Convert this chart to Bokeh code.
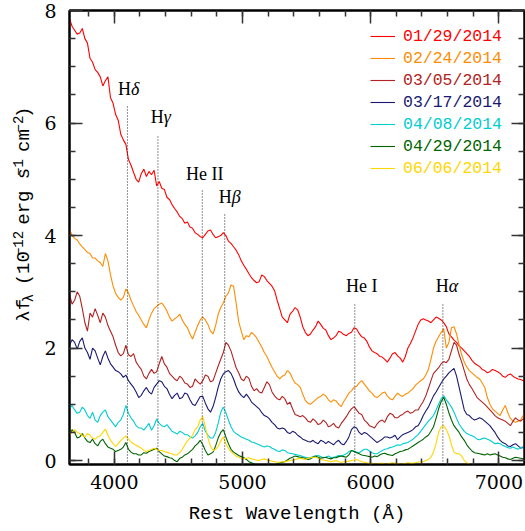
import math
from bokeh.plotting import figure
from bokeh.layouts import row
from bokeh.models import (Range1d, LinearAxis, SingleIntervalTicker, Legend,
                          LegendItem)
from bokeh.core.properties import value
from bokeh.embed import file_html
from bokeh.resources import INLINE

# ---------------- data ----------------
wave = list(range(3650, 7211, 20))  # rest wavelength grid (Angstrom)

dates = ["01/29/2014", "02/24/2014", "03/05/2014", "03/17/2014",
         "04/08/2014", "04/29/2014", "06/06/2014"]
colors = ["#ff0000", "#ff8c00", "#b22222", "#191970",
          "#00cdd0", "#006400", "#ffd700"]

red = [7.85, 7.72, 7.65, 7.58, 7.60, 7.68, 7.50, 7.42, 7.15, 7.08,
       6.95, 6.90, 6.82, 6.66, 6.75, 6.82, 6.45, 6.35, 6.15, 6.05,
       5.80, 5.70, 5.62, 5.35, 5.25, 5.12, 5.00, 4.95, 5.10, 5.18,
       5.05, 5.14, 5.08, 5.16, 4.88, 4.96, 4.84, 4.82, 4.68, 4.64,
       4.55, 4.48, 4.42, 4.34, 4.30, 4.22, 4.24, 4.15, 4.13, 4.05,
       4.02, 3.98, 3.96, 4.02, 4.08, 4.10, 4.02, 3.96, 3.98, 4.00,
       4.05, 4.00, 3.90, 3.86, 3.80, 3.74, 3.66, 3.55, 3.47, 3.40,
       3.32, 3.25, 3.20, 3.16, 3.18, 3.30, 3.27, 3.20, 3.15, 3.10,
       3.02, 2.85, 2.70, 2.55, 2.50, 2.45, 2.60, 2.65, 2.72, 2.68,
       2.55, 2.38, 2.28, 2.22, 2.25, 2.32, 2.38, 2.48, 2.42, 2.35,
       2.32, 2.22, 2.15, 2.18, 2.22, 2.30, 2.28, 2.24, 2.22, 2.26,
       2.28, 2.36, 2.34, 2.26, 2.20, 2.18, 2.12, 2.02, 1.95, 1.92,
       1.90, 1.85, 1.84, 1.80, 1.75, 1.82, 1.90, 1.92, 1.86, 1.82,
       1.75, 1.85, 2.00, 2.08, 2.18, 2.30, 2.42, 2.50, 2.52, 2.50,
       2.48, 2.45, 2.50, 2.55, 2.53, 2.50, 2.45, 2.38, 2.25, 2.20,
       2.14, 2.10, 2.04, 2.00, 1.95, 1.90, 1.85, 1.78, 1.73, 1.70,
       1.67, 1.62, 1.60, 1.56, 1.58, 1.62, 1.60, 1.58, 1.55, 1.50,
       1.48, 1.52, 1.54, 1.50, 1.47, 1.45, 1.44, 1.42, 1.40]

orange = [4.12, 4.00, 3.95, 3.92, 3.85, 3.80, 3.75, 3.70, 3.68, 3.60,
          3.60, 3.55, 3.52, 3.45, 3.68, 3.55, 3.30, 3.10, 2.97, 2.90,
          2.85, 2.90, 3.05, 2.98, 2.85, 2.75, 2.65, 2.58, 2.50, 2.42,
          2.36, 2.50, 2.62, 2.70, 2.74, 2.78, 2.80, 2.74, 2.66, 2.55,
          2.48, 2.52, 2.55, 2.60, 2.50, 2.42, 2.36, 2.25, 2.16, 2.28,
          2.40, 2.50, 2.55, 2.50, 2.42, 2.30, 2.25, 2.40, 2.60, 2.72,
          2.80, 2.92, 2.98, 3.12, 3.10, 2.80, 2.47, 2.30, 2.15, 2.22,
          2.20, 2.28, 2.24, 2.18, 2.10, 2.02, 1.92, 1.85, 1.75, 1.66,
          1.58, 1.50, 1.45, 1.50, 1.52, 1.60, 1.56, 1.46, 1.38, 1.35,
          1.30, 1.18, 1.07, 1.02, 1.00, 1.04, 1.08, 1.12, 1.14, 1.18,
          1.15, 1.08, 1.04, 1.08, 1.06, 1.00, 0.96, 1.05, 1.12, 1.20,
          1.24, 1.30, 1.32, 1.38, 1.42, 1.36, 1.30, 1.24, 1.20, 1.14,
          1.12, 1.16, 1.20, 1.22, 1.15, 1.10, 1.08, 1.14, 1.20, 1.16,
          1.14, 1.18, 1.20, 1.24, 1.28, 1.34, 1.38, 1.42, 1.45, 1.52,
          1.62, 1.80, 2.00, 2.12, 2.20, 2.28, 2.34, 2.00, 2.10, 2.36,
          2.38, 2.25, 2.05, 1.88, 1.75, 1.66, 1.60, 1.56, 1.52, 1.48,
          1.45, 1.38, 1.30, 1.12, 1.00, 0.92, 0.88, 0.84, 0.80, 0.90,
          0.98, 0.85, 0.75, 0.70, 0.68, 0.70, 0.72, 0.80, 0.84]

firebrick = [2.95, 2.78, 2.85, 3.00, 2.92, 2.70, 2.45, 2.30, 2.62, 2.55,
             2.70, 2.58, 2.45, 2.62, 2.55, 2.40, 2.30, 2.20, 2.05, 1.92,
             1.86, 1.90, 2.05, 1.88, 1.85, 1.90, 1.75, 1.68, 1.62, 1.50,
             1.45, 1.55, 1.62, 1.55, 1.58, 1.72, 1.85, 1.72, 1.66, 1.55,
             1.50, 1.45, 1.42, 1.50, 1.46, 1.38, 1.36, 1.30, 1.32, 1.45,
             1.40, 1.36, 1.42, 1.52, 1.50, 1.40, 1.42, 1.55, 1.68, 1.80,
             1.92, 2.10, 2.05, 1.95, 1.80, 1.65, 1.56, 1.45, 1.42, 1.50,
             1.46, 1.32, 1.24, 1.28, 1.22, 1.20, 1.30, 1.40, 1.35, 1.22,
             1.15, 1.10, 1.08, 1.14, 1.10, 1.00, 1.04, 0.92, 0.82, 0.80,
             0.78, 0.80, 0.76, 0.70, 0.68, 0.74, 0.70, 0.64, 0.66, 0.72,
             0.68, 0.60, 0.62, 0.66, 0.60, 0.58, 0.66, 0.72, 0.78, 0.86,
             0.92, 0.96, 0.90, 0.84, 0.82, 0.72, 0.68, 0.62, 0.60, 0.58,
             0.65, 0.70, 0.72, 0.68, 0.78, 0.84, 0.82, 0.76, 0.76, 0.80,
             0.82, 0.86, 0.88, 0.84, 0.86, 0.90, 0.90, 0.98, 1.05, 1.15,
             1.28, 1.42, 1.55, 1.60, 1.65, 1.72, 1.76, 1.74, 1.80, 1.95,
             2.10, 2.05, 1.88, 1.75, 1.60, 1.45, 1.35, 1.28, 1.20, 1.12,
             1.08, 1.04, 1.00, 0.95, 0.90, 0.85, 0.80, 0.76, 0.74, 0.72,
             0.70, 0.66, 0.62, 0.70, 0.76, 0.72, 0.70, 0.74, 0.72]

navy = [2.05, 2.15, 2.10, 1.98, 2.12, 2.18, 2.00, 1.92, 1.80, 2.00,
        1.95, 1.82, 1.70, 1.85, 1.95, 1.82, 1.72, 1.66, 1.60, 1.58,
        1.54, 1.48, 1.52, 1.42, 1.36, 1.30, 1.22, 1.12, 1.16, 1.24,
        1.30, 1.22, 1.18, 1.30, 1.36, 1.42, 1.40, 1.32, 1.28, 1.18,
        1.10, 1.16, 1.20, 1.10, 1.12, 1.20, 1.18, 1.08, 1.00, 0.98,
        1.06, 1.14, 1.14, 1.02, 0.92, 0.86, 0.96, 1.12, 1.30, 1.45,
        1.54, 1.58, 1.60, 1.55, 1.45, 1.32, 1.22, 1.16, 1.12, 1.18,
        1.12, 1.04, 1.00, 0.96, 0.92, 0.85, 0.80, 0.78, 0.74, 0.68,
        0.64, 0.58, 0.56, 0.58, 0.56, 0.50, 0.48, 0.52, 0.50, 0.45,
        0.42, 0.38, 0.36, 0.34, 0.33, 0.36, 0.32, 0.30, 0.36, 0.34,
        0.30, 0.34, 0.31, 0.28, 0.33, 0.36, 0.30, 0.28, 0.34, 0.42,
        0.55, 0.60, 0.58, 0.50, 0.46, 0.50, 0.48, 0.44, 0.40, 0.36,
        0.32, 0.35, 0.38, 0.42, 0.42, 0.40, 0.42, 0.45, 0.37, 0.42,
        0.46, 0.48, 0.50, 0.52, 0.55, 0.60, 0.62, 0.70, 0.80, 0.88,
        0.95, 1.05, 1.15, 1.22, 1.30, 1.38, 1.45, 1.50, 1.56, 1.60,
        1.64, 1.50, 1.30, 1.10, 0.90, 0.82, 0.80, 0.75, 0.72, 0.74,
        0.76, 0.74, 0.70, 0.66, 0.62, 0.56, 0.50, 0.42, 0.36, 0.32,
        0.30, 0.26, 0.25, 0.28, 0.30, 0.26, 0.22, 0.24, 0.24]

cyan = [0.93, 0.98, 0.90, 0.84, 0.86, 0.95, 0.90, 0.80, 0.75, 0.86,
        0.72, 0.68, 0.80, 0.86, 0.90, 0.78, 0.72, 0.66, 0.60, 0.68,
        0.72, 0.82, 0.98, 0.84, 0.76, 0.70, 0.62, 0.58, 0.58, 0.54,
        0.60, 0.66, 0.54, 0.62, 0.74, 0.66, 0.62, 0.60, 0.64, 0.58,
        0.52, 0.50, 0.47, 0.52, 0.50, 0.46, 0.46, 0.42, 0.40, 0.44,
        0.50, 0.60, 0.66, 0.52, 0.45, 0.40, 0.40, 0.50, 0.66, 0.86,
        0.95, 0.85, 0.72, 0.60, 0.52, 0.48, 0.45, 0.42, 0.40, 0.38,
        0.36, 0.33, 0.32, 0.30, 0.28, 0.26, 0.24, 0.26, 0.25, 0.22,
        0.20, 0.17, 0.16, 0.19, 0.18, 0.14, 0.13, 0.12, 0.11, 0.10,
        0.09, 0.07, 0.06, 0.05, 0.05, 0.07, 0.08, 0.09, 0.07, 0.05,
        0.06, 0.08, 0.05, 0.06, 0.07, 0.09, 0.08, 0.10, 0.12, 0.16,
        0.18, 0.17, 0.15, 0.14, 0.17, 0.20, 0.20, 0.17, 0.14, 0.12,
        0.12, 0.15, 0.18, 0.20, 0.21, 0.23, 0.24, 0.26, 0.28, 0.27,
        0.30, 0.31, 0.32, 0.35, 0.38, 0.42, 0.46, 0.52, 0.58, 0.64,
        0.70, 0.75, 0.80, 0.90, 1.00, 1.10, 1.15, 1.08, 1.02, 0.95,
        0.86, 0.75, 0.65, 0.58, 0.52, 0.48, 0.46, 0.44, 0.42, 0.38,
        0.37, 0.39, 0.40, 0.38, 0.36, 0.33, 0.30, 0.31, 0.30, 0.27,
        0.25, 0.23, 0.22, 0.24, 0.22, 0.20, 0.24, 0.22, 0.21]

green = [0.45, 0.55, 0.50, 0.40, 0.42, 0.48, 0.40, 0.34, 0.32, 0.38,
         0.30, 0.26, 0.34, 0.38, 0.30, 0.24, 0.22, 0.20, 0.16, 0.18,
         0.20, 0.24, 0.32, 0.20, 0.15, 0.12, 0.12, 0.10, 0.10, 0.14,
         0.13, 0.16, 0.18, 0.20, 0.22, 0.16, 0.12, 0.08, 0.07, 0.05,
         0.04, 0.00, -0.02, 0.04, 0.06, 0.10, 0.12, 0.16, 0.20, 0.26,
         0.30, 0.36, 0.28, 0.18, 0.10, 0.12, 0.15, 0.26, 0.40, 0.50,
         0.55, 0.42, 0.30, 0.20, 0.15, 0.12, 0.09, 0.07, 0.05, 0.02,
         -0.02, -0.04, -0.06, -0.07, -0.08, -0.09, -0.10, -0.08, -0.06, -0.07,
         -0.08, -0.06, -0.04, -0.03, -0.02, 0.01, 0.04, 0.06, 0.08, 0.07,
         0.06, 0.05, 0.04, 0.02, 0.03, 0.06, 0.08, 0.06, 0.04, 0.05,
         0.06, 0.04, 0.03, 0.05, 0.05, 0.07, 0.08, 0.07, 0.06, 0.10,
         0.18, 0.16, 0.14, 0.12, 0.10, 0.09, 0.08, 0.07, 0.06, 0.08,
         0.07, 0.10, 0.12, 0.13, 0.11, 0.10, 0.09, 0.12, 0.14, 0.16,
         0.17, 0.19, 0.20, 0.23, 0.26, 0.29, 0.32, 0.35, 0.38, 0.42,
         0.45, 0.52, 0.60, 0.75, 0.92, 1.05, 1.12, 1.00, 0.85, 0.72,
         0.62, 0.56, 0.50, 0.42, 0.36, 0.28, 0.22, 0.17, 0.14, 0.13,
         0.12, 0.11, 0.10, 0.12, 0.10, 0.11, 0.12, 0.10, 0.08, 0.06,
         0.05, 0.03, 0.02, 0.04, 0.06, 0.05, 0.04, 0.03, 0.03]

yellow = [0.45, 0.50, 0.55, 0.50, 0.48, 0.45, 0.42, 0.48, 0.45, 0.40,
          0.38, 0.42, 0.44, 0.50, 0.56, 0.45, 0.36, 0.30, 0.25, 0.30,
          0.36, 0.40, 0.44, 0.38, 0.33, 0.30, 0.27, 0.25, 0.22, 0.18,
          0.16, 0.18, 0.20, 0.22, 0.20, 0.18, 0.18, 0.16, 0.15, 0.13,
          0.12, 0.10, 0.10, 0.14, 0.20, 0.28, 0.35, 0.40, 0.45, 0.55,
          0.60, 0.72, 0.78, 0.60, 0.40, 0.26, 0.18, 0.20, 0.25, 0.35,
          0.42, 0.30, 0.22, 0.16, 0.12, 0.08, 0.06, 0.04, 0.03, 0.04,
          0.05, 0.03, 0.02, 0.01, 0.00, 0.02, 0.03, 0.01, 0.00, -0.01,
          -0.02, -0.03, -0.03, -0.02, -0.02, -0.01, 0.00, 0.01, 0.02, 0.03,
          0.04, 0.03, 0.02, 0.04, 0.05, 0.06, 0.06, 0.04, 0.02, 0.01,
          0.00, -0.01, -0.02, -0.01, 0.00, -0.02, -0.03, -0.02, -0.02, -0.01,
          0.00, 0.01, 0.02, 0.00, -0.02, -0.03, -0.04, -0.05, -0.05, -0.06,
          -0.06, -0.05, -0.05, -0.06, -0.06, -0.05, -0.04, -0.05, -0.05, -0.06,
          -0.06, -0.05, -0.04, -0.05, -0.05, -0.04, -0.03, -0.02, -0.02, 0.00,
          0.02, 0.06, 0.15, 0.30, 0.50, 0.60, 0.62, 0.55, 0.45, 0.28,
          0.15, 0.12, 0.12, 0.08, 0.00, -0.04, -0.06]

series = [red, orange, firebrick, navy, cyan, green, yellow]

# emission-line markers
line_names = ["H", "H", "He II", "H", "He I", "H"]
line_greek = ["δ", "γ", "", "β", "", "α"]
line_wave = [4102, 4340, 4686, 4861, 5876, 6563]
line_top = [6.31, 5.78, 4.80, 4.39, 2.79, 2.79]
label_y = [6.60, 6.10, 5.10, 4.69, 3.11, 3.11]

# y-axis title pieces: (text, 0 normal / 1 superscript / -1 subscript)
ytitle = [("λf", 0), ("λ", -1), (" (10", 0), ("−12", 1), (" erg s", 0),
          ("−1", 1), (" cm", 0), ("−2", 1), (")", 0)]

# ---------------- layout sizes ----------------
W, H = 525, 531
LW = 40                      # width of the y-title panel
FRAME_L, FRAME_R, FRAME_T, FRAME_B = 69, 524, 10, 464

# ---------------- main figure ----------------
Y0, Y1 = -0.07, 8.0
p = figure(width=W - LW, height=H, x_range=Range1d(3650, 7200),
           y_range=Range1d(Y0, Y1), output_backend="svg",
           toolbar_location=None, min_border_left=FRAME_L - LW,
           min_border_right=W - FRAME_R, min_border_top=FRAME_T,
           min_border_bottom=H - FRAME_B)
p.grid.visible = False
p.outline_line_color = "black"
p.outline_line_width = 2
p.background_fill_color = "white"
p.border_fill_color = "white"

p.xaxis.ticker = SingleIntervalTicker(interval=1000, num_minor_ticks=5)
p.yaxis.ticker = SingleIntervalTicker(interval=2, num_minor_ticks=4)


def style_axis(ax, labels=True):
    ax.axis_line_color = "black"
    ax.axis_line_width = 2
    ax.major_tick_in = 13
    ax.major_tick_out = 0
    ax.minor_tick_in = 6
    ax.minor_tick_out = 0
    ax.major_tick_line_color = "#333333"
    ax.minor_tick_line_color = "#333333"
    ax.major_tick_line_width = 1.5
    ax.minor_tick_line_width = 1.5
    if labels:
        ax.major_label_text_font = "DejaVu Serif"
        ax.major_label_text_font_size = "19px"
        ax.major_label_text_color = "black"
    else:
        ax.major_label_text_font_size = "0px"
        ax.major_label_text_color = None
        ax.major_label_standoff = 0


style_axis(p.xaxis[0])
style_axis(p.yaxis[0])
p.xaxis[0].major_label_standoff = 10
p.yaxis[0].major_label_standoff = 13
p.xaxis[0].axis_label = "Rest Wavelength (Å)"
p.xaxis[0].axis_label_text_font = "Liberation Mono"
p.xaxis[0].axis_label_text_font_size = "19px"
p.xaxis[0].axis_label_text_font_style = "normal"
p.xaxis[0].axis_label_text_color = "black"
p.xaxis[0].axis_label_standoff = 11

top_ax = LinearAxis(ticker=SingleIntervalTicker(interval=1000, num_minor_ticks=5))
right_ax = LinearAxis(ticker=SingleIntervalTicker(interval=2, num_minor_ticks=4))
style_axis(top_ax, labels=False)
style_axis(right_ax, labels=False)
p.add_layout(top_ax, "above")
p.add_layout(right_ax, "right")

# spectra
renderers = []
for vals, c in zip(series, colors):
    r = p.line(wave[:len(vals)], vals, line_color=c, line_width=1.1)
    renderers.append(r)

# dotted line markers
p.segment(x0=line_wave, y0=[Y0] * len(line_wave), x1=line_wave, y1=line_top,
          line_color="#222222", line_width=1, line_dash="1 2")

# line labels
x_off = [2.5, 4.7, 2.4, 6.0, 7.0, 5.0]
h_idx = [i for i, g in enumerate(line_greek) if g]
he_idx = [i for i, g in enumerate(line_greek) if not g]
p.text(x=[line_wave[i] for i in he_idx], y=[label_y[i] for i in he_idx],
       text=[line_names[i] for i in he_idx],
       x_offset=[x_off[i] for i in he_idx],
       text_align="center", text_baseline="middle",
       text_font=value("Liberation Serif"), text_font_size="18px",
       text_color="black")
p.text(x=[line_wave[i] for i in h_idx], y=[label_y[i] for i in h_idx],
       text=[line_names[i] for i in h_idx],
       x_offset=[x_off[i] + 1 for i in h_idx],
       text_align="right", text_baseline="middle",
       text_font=value("Liberation Serif"), text_font_size="18px",
       text_color="black")
p.text(x=[line_wave[i] for i in h_idx], y=[label_y[i] for i in h_idx],
       text=[line_greek[i] for i in h_idx],
       x_offset=[x_off[i] + 1 for i in h_idx],
       text_align="left", text_baseline="middle",
       text_font=value("Liberation Serif"), text_font_size="18px",
       text_font_style="italic", text_color="black")

# legend (one block per date so that each label keeps its colour)
for i, (d, c, r) in enumerate(zip(dates, colors, renderers)):
    leg = Legend(items=[LegendItem(label=d, renderers=[r])],
                 location=(370 - FRAME_L, FRAME_B - 46 - 22 * i),
                 glyph_width=25, glyph_height=20, label_height=20,
                 label_standoff=8, padding=0, margin=0, spacing=0,
                 border_line_color=None, background_fill_alpha=0,
                 label_text_font="Liberation Mono",
                 label_text_font_size="16.5px", label_text_color=c)
    p.add_layout(leg)

# ---------------- y-axis title panel ----------------
lf = figure(width=LW, height=H, x_range=Range1d(0, LW), y_range=Range1d(0, H),
            output_backend="svg", toolbar_location=None, min_border=0,
            x_axis_location=None, y_axis_location=None)
lf.grid.visible = False
lf.outline_line_color = None
lf.background_fill_color = "white"
lf.border_fill_color = "white"

F, S = 19, 14
shift = {0: 0, 1: -6, -1: 5}
xc = 23
cum = H - 364.0
nx, ny, nt, sx_, sy_, st = [], [], [], [], [], []
for txt, kind in ytitle:
    size = F if kind == 0 else S
    lead = len(txt) - len(txt.lstrip(" "))
    cum += lead * 0.6 * size
    body = txt.lstrip(" ")
    if kind == 0:
        nx.append(xc); ny.append(cum); nt.append(body)
    else:
        sx_.append(xc + shift[kind]); sy_.append(cum); st.append(body)
    cum += len(body) * 0.6 * size
lf.text(x=nx, y=ny, text=nt, angle=math.pi / 2, text_align="left",
        text_baseline="middle", text_font=value("Liberation Mono"),
        text_font_size=f"{F}px", text_color="black")
lf.text(x=sx_, y=sy_, text=st, angle=math.pi / 2, text_align="left",
        text_baseline="middle", text_font=value("Liberation Mono"),
        text_font_size=f"{S}px", text_color="black")

layout = row(lf, p, spacing=0)
open("out.html", "w").write(file_html(layout, INLINE))
